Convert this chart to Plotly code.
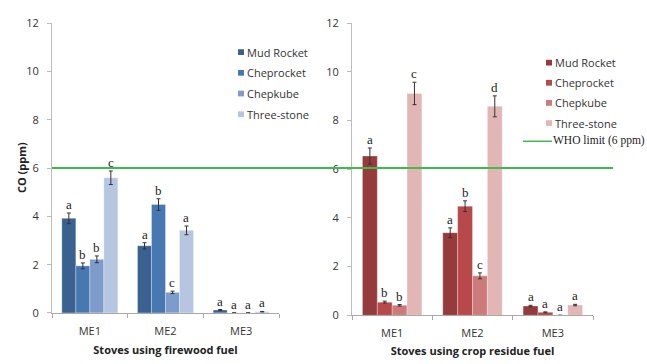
import plotly.graph_objects as go

W, H = 647, 364

categories = ["ME1", "ME2", "ME3"]
stoves = ["Mud Rocket", "Cheprocket", "Chepkube", "Three-stone"]

# Firewood fuel (left panel)
fw_values = {
    "Mud Rocket": [3.92, 2.78, 0.12],
    "Cheprocket": [1.95, 4.49, 0.0],
    "Chepkube": [2.22, 0.85, 0.0],
    "Three-stone": [5.60, 3.42, 0.05],
}
fw_errors = {
    "Mud Rocket": [0.22, 0.13, 0.02],
    "Cheprocket": [0.12, 0.24, 0.0],
    "Chepkube": [0.14, 0.05, 0.0],
    "Three-stone": [0.28, 0.18, 0.01],
}
fw_letters = {
    "Mud Rocket": ["a", "a", "a"],
    "Cheprocket": ["b", "b", "a"],
    "Chepkube": ["b", "c", "a"],
    "Three-stone": ["c", "a", "a"],
}

# Crop residue fuel (right panel)
cr_values = {
    "Mud Rocket": [6.54, 3.39, 0.38],
    "Cheprocket": [0.54, 4.48, 0.12],
    "Chepkube": [0.41, 1.62, 0.0],
    "Three-stone": [9.11, 8.58, 0.42],
}
cr_errors = {
    "Mud Rocket": [0.33, 0.20, 0.03],
    "Cheprocket": [0.04, 0.22, 0.02],
    "Chepkube": [0.03, 0.12, 0.0],
    "Three-stone": [0.46, 0.43, 0.03],
}
cr_letters = {
    "Mud Rocket": ["a", "a", "a"],
    "Cheprocket": ["b", "b", "a"],
    "Chepkube": ["b", "c", "a"],
    "Three-stone": ["c", "d", "a"],
}

who_limit = 6
y_ticks = [0, 2, 4, 6, 8, 10, 12]

blue_colors = ["#3b6190", "#4878b2", "#7d9bcb", "#b6c6e1"]
red_colors = ["#963b3b", "#b8494a", "#cc7a7a", "#e3b6b6"]

# layout geometry (pixels)
L_x0, L_x1 = 52, 279
R_x0, R_x1 = 352, 593
L_y0, L_y1 = 318, 16
R_y0, R_y1 = 320.5, 15.7
BARGAP = 0.26

fig = go.Figure()

def add_panel(values, errors, colors, xa, ya):
    for i, s in enumerate(stoves):
        fig.add_trace(go.Bar(
            x=categories, y=values[s], name=s,
            marker=dict(color=colors[i], line=dict(color="rgba(255,255,255,0.5)", width=0.6)),
            error_y=dict(type="data", array=errors[s], visible=True,
                         color="#333333", thickness=1, width=2),
            xaxis=xa, yaxis=ya, showlegend=False,
        ))

add_panel(fw_values, fw_errors, blue_colors, "x", "y")
add_panel(cr_values, cr_errors, red_colors, "x2", "y2")

annotations = []

def add_letters(values, errors, letters, xref, yref, px0, px1):
    cat_w = (px1 - px0) / len(categories)
    bar_w = cat_w * (1 - BARGAP) / len(stoves)
    for i, s in enumerate(stoves):
        off = (i - (len(stoves) - 1) / 2) * bar_w
        for j, c in enumerate(categories):
            annotations.append(dict(
                x=c, y=values[s][j] + errors[s][j], xref=xref, yref=yref,
                text=letters[s][j], showarrow=False, xshift=off,
                yanchor="bottom", yshift=-1,
                font=dict(family="Liberation Serif", size=13, color="#222222"),
            ))

add_letters(fw_values, fw_errors, fw_letters, "x", "y", L_x0, L_x1)
add_letters(cr_values, cr_errors, cr_letters, "x2", "y2", R_x0, R_x1)

shapes = []
# WHO limit line spanning both panels
shapes.append(dict(type="line", xref="paper", yref="y", x0=L_x0 / W, x1=613 / W,
                   y0=who_limit, y1=who_limit, line=dict(color="#3dbb4c", width=2)))

legend_font = dict(family="Open Sans", size=11, color="#333333")

def add_legend(x_sq, y_first, step, colors):
    for i, s in enumerate(stoves):
        yc = y_first + i * step
        shapes.append(dict(type="rect", xref="paper", yref="paper",
                           x0=x_sq / W, x1=(x_sq + 6) / W,
                           y0=1 - (yc + 3) / H, y1=1 - (yc - 3) / H,
                           fillcolor=colors[i], line=dict(width=0)))
        annotations.append(dict(x=(x_sq + 7) / W, y=1 - yc / H, xref="paper", yref="paper",
                                text=s, showarrow=False, xanchor="left", yanchor="middle",
                                font=legend_font))

add_legend(238, 46, 21.6, blue_colors)
add_legend(546, 57, 21, red_colors)

# WHO legend entry
shapes.append(dict(type="line", xref="paper", yref="paper", x0=523 / W, x1=552 / W,
                   y0=1 - 139 / H, y1=1 - 139 / H, line=dict(color="#3dbb4c", width=1.5)))
annotations.append(dict(x=551 / W, y=1 - 138 / H, xref="paper", yref="paper",
                        text="WHO limit (6 ppm)", showarrow=False, xanchor="left", yanchor="middle",
                        font=dict(family="Liberation Serif", size=11.5, color="#222222")))

tick_font = dict(family="Open Sans", size=11, color="#333333")
title_font = dict(family="Open Sans", size=11, color="#222222")

# y-axis title
annotations.append(dict(x=21 / W, y=1 - ((L_y0 + L_y1) / 2) / H, xref="paper", yref="paper",
                        text="<b>CO (ppm)</b>", textangle=-90, showarrow=False,
                        xanchor="center", yanchor="middle", font=title_font))

xcommon = dict(type="category", showline=True, linecolor="#a8a8a8", linewidth=1,
               ticks="outside", tickson="boundaries", ticklen=4, tickcolor="#a8a8a8",
               showgrid=False, tickfont=tick_font, zeroline=False, ticklabelstandoff=8)
ycommon = dict(range=[0, 12], tickvals=y_ticks, showline=True, linecolor="#bdbdbd", linewidth=1,
               ticks="outside", ticklen=4, tickcolor="#bdbdbd", showgrid=False,
               zeroline=False, tickfont=tick_font, ticklabelstandoff=6)

fig.update_layout(
    width=W, height=H,
    margin=dict(l=0, r=0, t=0, b=0),
    paper_bgcolor="white", plot_bgcolor="white",
    barmode="group", bargap=BARGAP, bargroupgap=0,
    xaxis=dict(domain=[L_x0 / W, L_x1 / W], anchor="y",
               title=dict(text="<b>Stoves using firewood fuel</b>", font=title_font, standoff=9),
               **xcommon),
    xaxis2=dict(domain=[R_x0 / W, R_x1 / W], anchor="y2",
                title=dict(text="<b>Stoves using crop residue fuel</b>", font=title_font, standoff=7),
                **xcommon),
    yaxis=dict(domain=[1 - L_y0 / H, 1 - L_y1 / H], anchor="x", **ycommon),
    yaxis2=dict(domain=[1 - R_y0 / H, 1 - R_y1 / H], anchor="x2", **ycommon),
    shapes=shapes,
    annotations=annotations,
)

fig.write_html("out.html", config={"displayModeBar": False},
               post_script="document.body.style.margin='0';")
